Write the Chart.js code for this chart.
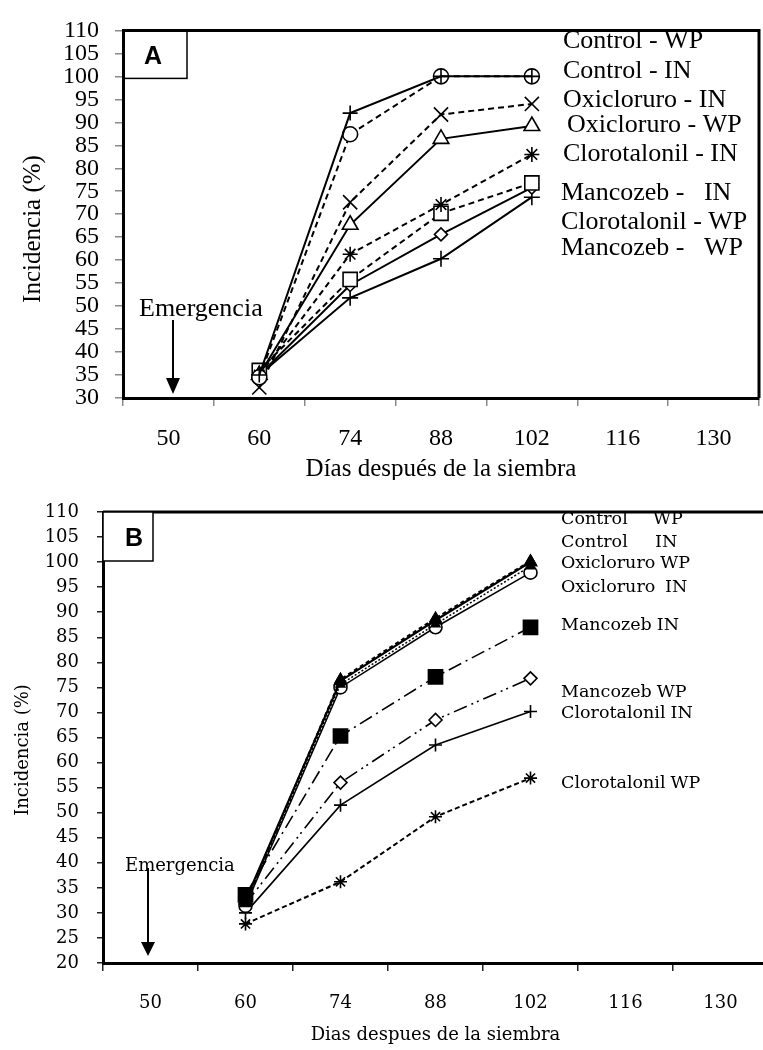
<!DOCTYPE html>
<html>
<head>
<meta charset="utf-8">
<script src="https://cdn.jsdelivr.net/npm/chart.js@4.4.1/dist/chart.umd.min.js"></script>
<style>
  html, body { margin: 0; padding: 0; background: #fff; overflow: hidden; }
  #wrap { width: 763px; height: 1050px; position: relative; overflow: hidden; }
  #chartA { position: absolute; left: 0; top: 0; }
  #chartB { position: absolute; left: 0; top: 480px; }
</style>
</head>
<body>
<div id="wrap">
  <canvas id="chartA" width="763" height="480"></canvas>
  <canvas id="chartB" width="775" height="570"></canvas>
</div>
<script>
// x categories (days after sowing) and the days that were sampled
const days = ['50', '60', '74', '88', '102', '116', '130'];
const sampledDays = ['60', '74', '88', '102'];

// Panel A - incidence (%)
const aControlWP = [35, 92, 100, 100];
const aControlIN = [34.5, 87.4, 100, 100];
const aOxiIN = [32.3, 72.6, 91.7, 94.0];
const aOxiWP = [35, 67.7, 86.4, 89.2];
const aCloroIN = [35, 61.3, 72.1, 83.0];
const aMancoIN = [36, 55.8, 70.2, 76.8];
const aCloroWP = [35, 54.6, 65.6, 75.8];
const aMancoWP = [35, 51.8, 60.3, 73.7];

// Panel B - incidence (%)
const bControlWP = [32.5, 76.3, 88.4, 100];
const bControlIN = [32, 76.6, 88.8, 100.2];
const bOxiWP = [31.8, 75.6, 87.6, 99.2];
const bOxiIN = [31.4, 75.0, 87.0, 97.9];
const bMancoIN = [33.6, 65.3, 77.1, 87.0];
const bMancoWP = [31.8, 56.0, 68.5, 76.8];
const bCloroIN = [30, 51.5, 63.5, 70.2];
const bCloroWP = [27.8, 36.2, 49.2, 56.9];

const yTicksA = { min: 30, max: 110, step: 5 };
const yTicksB = { min: 20, max: 110, step: 5 };

function toSeries(vals) {
  return days.map(d => {
    const i = sampledDays.indexOf(d);
    return i < 0 ? null : vals[i];
  });
}

function ds(label, vals, style, radius, dash, width, fill) {
  return {
    label: label,
    data: toSeries(vals),
    borderColor: '#000',
    borderWidth: width,
    borderDash: dash,
    tension: 0,
    pointStyle: style,
    pointRadius: radius,
    pointBorderColor: '#000',
    pointBorderWidth: 1.6,
    pointBackgroundColor: fill ? '#000' : '#fff',
    fill: false
  };
}

const DASH = [6, 4];

// legend text + annotations for panel A
const decorA = {
  id: 'decorA',
  afterDraw(chart) {
    const { ctx, chartArea: a } = chart;
    ctx.save();
    ctx.strokeStyle = '#000';
    ctx.lineWidth = 3;
    ctx.beginPath();
    ctx.moveTo(a.left, a.top);
    ctx.lineTo(a.right, a.top);
    ctx.lineTo(a.right, a.bottom);
    ctx.stroke();

    ctx.lineWidth = 1.5;
    ctx.strokeRect(a.left, a.top, 64, 48);
    ctx.fillStyle = '#000';
    ctx.font = 'bold 25px "Liberation Sans"';
    ctx.textAlign = 'center';
    ctx.textBaseline = 'middle';
    ctx.fillText('A', a.left + 30, a.top + 27);

    ctx.textAlign = 'left';
    ctx.font = '26px "Liberation Serif"';
    const items = [
      ['Control - WP', 563, 41], ['Control - IN', 563, 71],
      ['Oxicloruro - IN', 563, 100], ['Oxicloruro - WP', 567, 125],
      ['Clorotalonil - IN', 563, 154], ['Mancozeb -   IN', 561, 193],
      ['Clorotalonil - WP', 561, 222], ['Mancozeb -   WP', 561, 248]
    ];
    items.forEach(([t, x, y]) => ctx.fillText(t, x, y));

    ctx.fillText('Emergencia', 139, 309);
    ctx.lineWidth = 2;
    ctx.beginPath();
    ctx.moveTo(173, 320);
    ctx.lineTo(173, 380);
    ctx.stroke();
    ctx.beginPath();
    ctx.moveTo(166, 378);
    ctx.lineTo(180, 378);
    ctx.lineTo(173, 394);
    ctx.closePath();
    ctx.fill();

    ctx.textAlign = 'center';
    ctx.font = '25px "Liberation Serif"';
    ctx.fillText('Días después de la siembra', (a.left + a.right) / 2, 469);
    ctx.translate(33, 229);
    ctx.rotate(-Math.PI / 2);
    ctx.fillText('Incidencia (%)', 0, 0);
    ctx.restore();
  }
};

// legend text + annotations for panel B
const decorB = {
  id: 'decorB',
  afterDraw(chart) {
    const { ctx, chartArea: a } = chart;
    ctx.save();
    ctx.strokeStyle = '#000';
    ctx.fillStyle = '#000';
    ctx.textBaseline = 'middle';
    ctx.textAlign = 'left';
    ctx.font = '17.5px "DejaVu Serif"';
    const items = [
      ['Control', 'WP', 561, 653, 39], ['Control', 'IN', 561, 655, 62],
      ['Oxicloruro', 'WP', 561, 659, 83], ['Oxicloruro', 'IN', 561, 665, 107],
      ['Mancozeb', 'IN', 561, 652, 145], ['Mancozeb', 'WP', 561, 652, 212],
      ['Clorotalonil', 'IN', 561, 668, 233], ['Clorotalonil', 'WP', 561, 668, 303]
    ];
    items.forEach(([n, s, x1, x2, y]) => {
      ctx.fillText(n, x1, y);
      ctx.fillText(s, Math.max(x2, x1 + ctx.measureText(n).width + 5), y);
    });

    ctx.lineWidth = 3;
    ctx.beginPath();
    ctx.moveTo(a.left, a.top);
    ctx.lineTo(chart.width, a.top);
    ctx.stroke();

    ctx.lineWidth = 1.5;
    ctx.fillStyle = '#fff';
    ctx.fillRect(a.left, a.top, 50, 49);
    ctx.strokeRect(a.left, a.top, 50, 49);
    ctx.fillStyle = '#000';
    ctx.font = 'bold 25px "Liberation Sans"';
    ctx.textAlign = 'center';
    ctx.fillText('B', a.left + 31, a.top + 27);

    ctx.textAlign = 'left';
    ctx.font = '18px "DejaVu Serif"';
    ctx.fillText('Emergencia', 125, 386);
    ctx.lineWidth = 2;
    ctx.beginPath();
    ctx.moveTo(148, 388);
    ctx.lineTo(148, 465);
    ctx.stroke();
    ctx.beginPath();
    ctx.moveTo(141, 462);
    ctx.lineTo(155, 462);
    ctx.lineTo(148, 476);
    ctx.closePath();
    ctx.fill();

    ctx.textAlign = 'center';
    ctx.fillText('Dias despues de la siembra', (a.left + a.right) / 2, 555);
    ctx.translate(23, 270);
    ctx.rotate(-Math.PI / 2);
    ctx.fillText('Incidencia (%)', 0, 0);
    ctx.restore();
  }
};

function axes(yr, o) {
  return {
    x: {
      type: 'category',
      offset: true,
      grid: { offset: true, drawOnChartArea: false, drawTicks: true, tickLength: o.xTick, color: o.tickColor, lineWidth: 1.5 },
      border: { display: true, color: '#000', width: 3 },
      ticks: { font: o.font, color: '#000', padding: o.xPad, maxRotation: 0, autoSkip: false },
      afterFit: s => { s.height = o.xHeight; s.paddingLeft = 0; s.paddingRight = 0; }
    },
    y: {
      min: yr.min,
      max: yr.max,
      grid: { drawOnChartArea: false, drawTicks: true, tickLength: o.yTick, color: o.tickColor, lineWidth: 1.5 },
      border: { display: true, color: '#000', width: 3 },
      ticks: { stepSize: yr.step, autoSkip: false, font: o.font, color: '#000', padding: o.yPad },
      afterFit: s => { s.width = o.yWidth; }
    }
  };
}

new Chart(document.getElementById('chartA'), {
  type: 'line',
  data: {
    labels: days,
    datasets: [
      ds('Control - WP', aControlWP, 'cross', 7.5, [], 2, false),
      ds('Control - IN', aControlIN, 'circle', 7.5, DASH, 2, false),
      ds('Oxicloruro - IN', aOxiIN, 'crossRot', 10, DASH, 2, false),
      ds('Oxicloruro - WP', aOxiWP, 'triangle', 9, [], 2, false),
      ds('Clorotalonil - IN', aCloroIN, 'star', 7.5, DASH, 2, false),
      ds('Mancozeb - IN', aMancoIN, 'rect', 10, DASH, 2, false),
      ds('Clorotalonil - WP', aCloroWP, 'rectRot', 6.5, [], 2, false),
      ds('Mancozeb - WP', aMancoWP, 'cross', 8, [], 2, false)
    ]
  },
  options: {
    responsive: false,
    animation: false,
    layout: { autoPadding: false, padding: { top: 20, right: 4, left: 0, bottom: 0 } },
    plugins: { legend: { display: false }, tooltip: { enabled: false } },
    scales: axes(yTicksA, {
      font: { family: 'Liberation Serif', size: 24 },
      tickColor: '#8a8a8a', xTick: 8, yTick: 8, xPad: 18, yPad: 16, xHeight: 82, yWidth: 123
    })
  },
  plugins: [decorA]
});

new Chart(document.getElementById('chartB'), {
  type: 'line',
  data: {
    labels: days,
    datasets: [
      ds('Control WP', bControlWP, 'triangle', 7, [], 2.2, true),
      ds('Control IN', bControlIN, 'triangle', 6, [4, 3], 2, true),
      ds('Oxicloruro WP', bOxiWP, 'triangle', 5, [2, 2], 1.5, true),
      ds('Oxicloruro IN', bOxiIN, 'circle', 6.5, [], 1.5, false),
      ds('Mancozeb IN', bMancoIN, 'rect', 10, [14, 5, 2, 5], 1.6, true),
      ds('Mancozeb WP', bMancoWP, 'rectRot', 6.5, [14, 5, 2, 4, 2, 5], 1.6, false),
      ds('Clorotalonil IN', bCloroIN, 'cross', 6.5, [], 1.6, false),
      ds('Clorotalonil WP', bCloroWP, 'star', 6.5, [5, 3], 2, false)
    ]
  },
  options: {
    responsive: false,
    animation: false,
    layout: { autoPadding: false, padding: { top: 32, right: 7, left: 0, bottom: 0 } },
    plugins: { legend: { display: false }, tooltip: { enabled: false } },
    scales: axes(yTicksB, {
      font: { family: 'DejaVu Serif', size: 18 },
      tickColor: '#222', xTick: 8, yTick: 6, xPad: 22, yPad: 18, xHeight: 87, yWidth: 103
    })
  },
  plugins: [decorB]
});
</script>
</body>
</html>
